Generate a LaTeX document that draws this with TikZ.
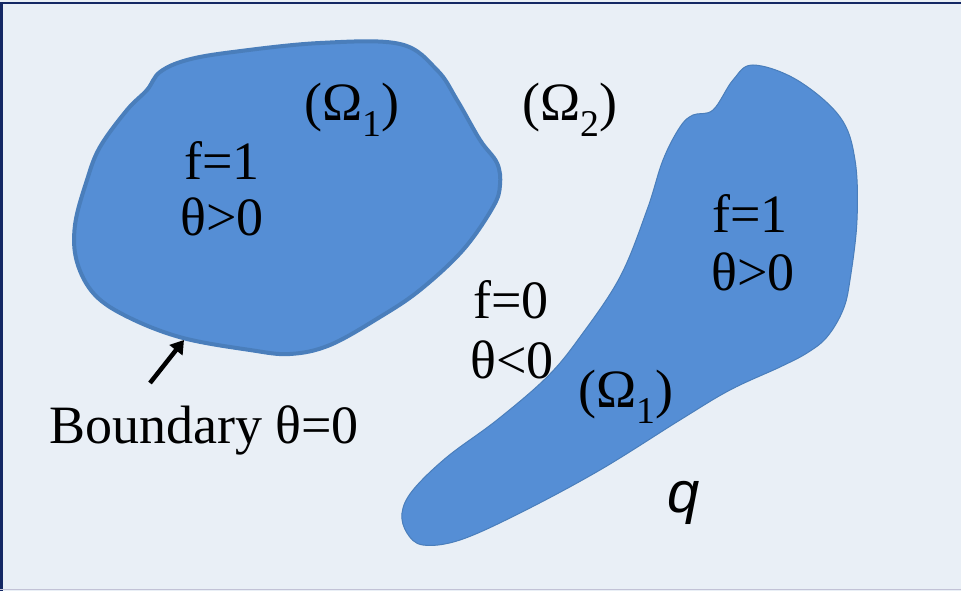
\documentclass[tikz,border=0pt]{standalone}
\usepackage{fontspec}
\newfontfamily\timesz{Liberation Serif}
\newfontfamily\sansz{Liberation Sans}
\usetikzlibrary{arrows.meta,positioning}
\definecolor{bgblue}{RGB}{233,239,246}
\definecolor{framenavy}{RGB}{20,40,100}
\definecolor{blobfill}{RGB}{85,142,213}
\definecolor{blobedge}{RGB}{74,126,187}
\tikzset{
  lbl/.style={font=\timesz\fontsize{54}{60}\selectfont, inner sep=0pt, align=center},
  blob/.style={fill=blobfill, draw=blobedge},
}
\begin{document}
\begin{tikzpicture}[x=1pt,y=-1pt]
  \useasboundingbox (0,0) rectangle (961,591);
  %Background
  \fill[bgblue] (0,0) rectangle (961,591);
  \draw[framenavy, line width=2.5pt] (1.5,591) -- (1.5,3) -- (961,3);
  \draw[blue!20!gray!40, line width=1pt] (0,589.5) -- (961,589.5);
  %Left region
  \draw[blob, line width=4pt] plot[smooth cycle, tension=0.6] coordinates {
    (147,90) (160,72) (187,60) (233,52) (320,43) (400,44) (437,70)
    (457,100) (480,140) (497,163) (500,185) (493,207) (463,250)
    (420,290) (380,317) (330,345) (290,354) (250,350) (183,338)
    (130,318) (95,295) (77,262) (75,225) (87,180) (100,147) (127,110)};
  %Right region
  \draw[blob, line width=1pt] plot[smooth cycle, tension=0.6] coordinates {
    (753,65) (797,80) (840,117) (855,160) (857,220) (850,280) (843,310)
    (827,337) (807,353) (780,367) (730,390) (680,420) (600,470)
    (520,513) (460,540) (423,545) (407,533) (402,513) (413,490)
    (447,457) (497,420) (547,377) (580,337) (620,277) (647,210)
    (663,160) (680,127) (693,115) (713,110) (733,80)};
  %Labels
  \node[lbl] (omegaA) at (352,110) {(Ω\textsubscript{1})};
  \node[lbl] (omegaB) at (570,110) {(Ω\textsubscript{2})};
  \node[lbl] (omegaC) at (626,397) {(Ω\textsubscript{1})};
  \node[lbl] (fA) at (222,160) {f=1};
  \node[lbl] (thA) at (222,217) {θ>0};
  \node[lbl] (fB) at (750,213) {f=1};
  \node[lbl] (thB) at (753,272) {θ>0};
  \node[lbl] (fC) at (511,300) {f=0};
  \node[lbl] (thC) at (512,360) {θ<0};
  \node[lbl] (bnd) at (204,430) {Boundary θ=0};
  \node[lbl, font=\sansz\itshape\fontsize{58}{60}\selectfont] (qlbl) at (684,503) {q};
  %Arrow
  \coordinate (arrtail) at (150,383);
  \coordinate (arrtip) at (184,340);
  \draw[line width=4.5pt, -{Triangle[length=13pt,width=16pt]}] (arrtail) -- (arrtip);
\end{tikzpicture}
\end{document}
